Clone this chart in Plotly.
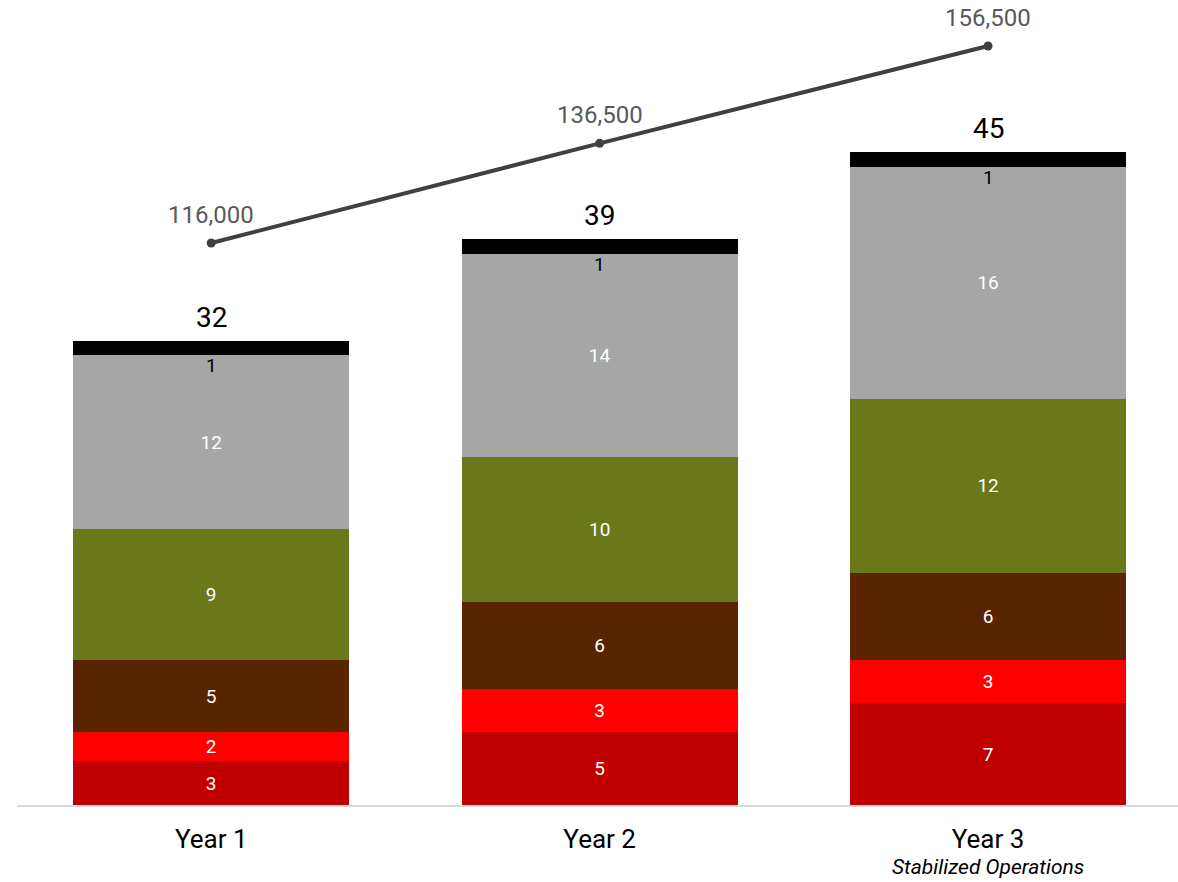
import plotly.graph_objects as go

categories = ["Year 1", "Year 2", "Year 3"]
seg_names = ["Seg A", "Seg B", "Seg C", "Seg D", "Seg E", "Seg F"]
seg_a = [3, 5, 7]
seg_b = [2, 3, 3]
seg_c = [5, 6, 6]
seg_d = [9, 10, 12]
seg_e = [12, 14, 16]
seg_f = [1, 1, 1]
totals = [32, 39, 45]
line_values = [116000, 136500, 156500]
line_labels = ["116,000", "136,500", "156,500"]
subtitle = "Stabilized Operations"

colors = ["#C00000", "#FF0000", "#582500", "#6A7819", "#A6A6A6", "#000000"]
series = [seg_a, seg_b, seg_c, seg_d, seg_e, seg_f]

FONT = "Roboto"
fig = go.Figure()
for name, vals, col in zip(seg_names, series, colors):
    show_text = col != "#000000"
    fig.add_trace(go.Bar(
        x=categories, y=vals, name=name,
        marker=dict(color=col, line=dict(width=0)),
        text=[str(v) for v in vals] if show_text else None,
        textposition="inside", insidetextanchor="middle",
        textfont=dict(color="white", size=19, family=FONT),
        textangle=0,
        hoverinfo="skip",
    ))

# label of the top (black) segment, drawn just below it
for c, t, v in zip(categories, totals, seg_f):
    fig.add_annotation(x=c, y=t - v, yref="y", text=str(v), showarrow=False,
                       yanchor="top", yshift=3,
                       font=dict(color="black", size=19, family=FONT))
    fig.add_annotation(x=c, y=t, yref="y", text=str(t), showarrow=False,
                       yanchor="bottom", yshift=5,
                       font=dict(color="black", size=28, family=FONT))

fig.add_trace(go.Scatter(
    x=categories, y=line_values, yaxis="y2", mode="lines+markers",
    line=dict(color="#404040", width=4),
    marker=dict(color="#404040", size=9),
    hoverinfo="skip", cliponaxis=False,
))
for c, v, lab in zip(categories, line_values, line_labels):
    fig.add_annotation(x=c, y=v, yref="y2", text=lab, showarrow=False,
                       yanchor="bottom", yshift=12,
                       font=dict(color="#595959", size=24, family=FONT))

fig.add_annotation(x=categories[2], y=0, yref="paper", text="<i>" + subtitle + "</i>",
                   showarrow=False, yanchor="bottom", yshift=-76,
                   font=dict(color="black", size=21, family=FONT))

fig.update_layout(
    width=1178, height=882,
    margin=dict(l=17, r=0, t=0, b=77),
    barmode="stack", bargap=0.29,
    showlegend=False,
    plot_bgcolor="white", paper_bgcolor="white",
    font=dict(family=FONT),
    xaxis=dict(range=[-0.5, 2.489], showline=True, linecolor="#D9D9D9", linewidth=2, ticks="",
               tickfont=dict(size=26, color="black", family=FONT), ticklabelstandoff=10,
               showgrid=False),
    yaxis=dict(range=[0, 55.5], visible=False, showgrid=False),
    yaxis2=dict(range=[460, 165968], overlaying="y", visible=False, showgrid=False),
)

fig.write_html("out.html")
